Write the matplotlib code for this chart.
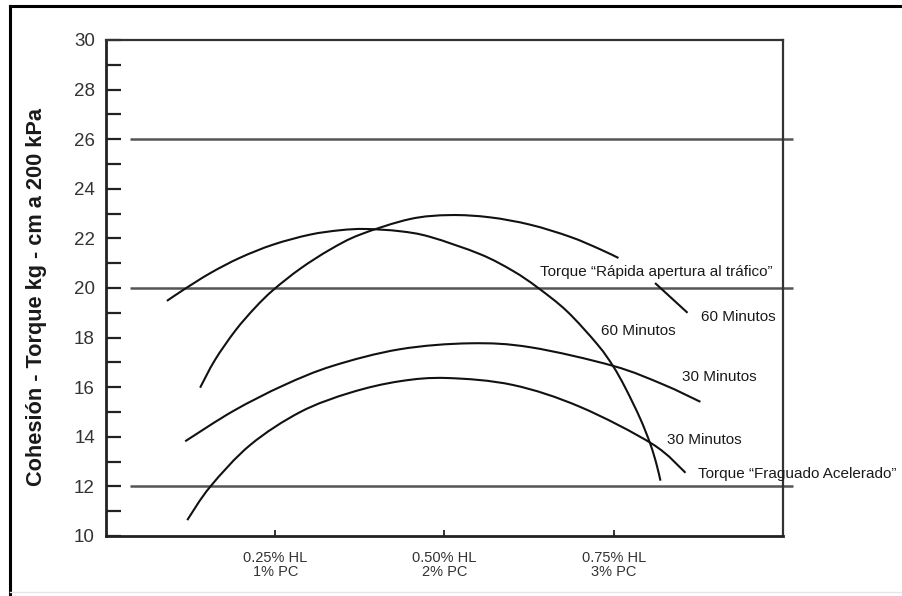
import numpy as np
import matplotlib
matplotlib.use("Agg")
import matplotlib.pyplot as plt
from matplotlib.path import Path
from matplotlib.patches import PathPatch
from matplotlib.lines import Line2D

plt.rcParams['font.family'] = ['Liberation Sans', 'DejaVu Sans']

# Dosage axis (HL = hidrato de cal, PC = cemento portland)
x_ticks = [0.25, 0.50, 0.75]
x_labels = ["0.25% HL\n1% PC", "0.50% HL\n2% PC", "0.75% HL\n3% PC"]
y_major = list(range(10, 31, 2))
y_minor = list(range(11, 30, 2))
ref_levels = [12, 20, 26]

# Torque "Rápida apertura al tráfico" - 60 minutos
rapida_60_x = [0.139, 0.161, 0.191, 0.220, 0.247, 0.287, 0.331, 0.375, 0.449,
               0.508, 0.567, 0.627, 0.686, 0.730, 0.757]
rapida_60_y = [15.98, 17.10, 18.28, 19.20, 19.92, 20.78, 21.55, 22.15, 22.78,
               22.94, 22.85, 22.55, 22.06, 21.56, 21.21]
rapida_60_tail_x = [0.811, 0.859]
rapida_60_tail_y = [20.20, 19.00]

# 60 minutos (curva de mayor pendiente)
min60_x = [0.090, 0.114, 0.154, 0.198, 0.247, 0.301, 0.346, 0.383, 0.434,
           0.479, 0.553, 0.601, 0.637, 0.681, 0.726, 0.749, 0.767, 0.789,
           0.804, 0.813, 0.819]
min60_y = [19.48, 19.92, 20.60, 21.22, 21.75, 22.15, 22.33, 22.38, 22.29,
           22.06, 21.36, 20.69, 20.03, 19.06, 17.72, 16.85, 15.98, 14.74,
           13.71, 12.91, 12.23]

# 30 minutos (curva superior)
min30_x = [0.117, 0.188, 0.262, 0.335, 0.434, 0.538, 0.627, 0.749, 0.823, 0.878]
min30_y = [13.82, 15.04, 16.07, 16.86, 17.53, 17.77, 17.61, 16.86, 16.11, 15.41]

# Torque "Fraguado Acelerado" - 30 minutos
fraguado_30_x = [0.120, 0.154, 0.213, 0.287, 0.361, 0.434, 0.504, 0.601,
                 0.700, 0.807, 0.856]
fraguado_30_y = [10.64, 11.99, 13.67, 15.00, 15.78, 16.24, 16.37, 16.09,
                 15.21, 13.71, 12.55]

# Curve labels: (text, x, y)
curve_labels = [
    ("Torque \u201cRápida apertura al tráfico\u201d", 0.641, 20.65),
    ("60 Minutos", 0.879, 18.84),
    ("60 Minutos", 0.731, 18.25),
    ("30 Minutos", 0.851, 16.41),
    ("30 Minutos", 0.829, 13.86),
    ("Torque \u201cFraguado Acelerado\u201d", 0.875, 12.51),
]


def smooth_path(xs, ys):
    """Catmull-Rom spline through the points, as cubic Bezier segments."""
    pts = np.column_stack([xs, ys]).astype(float)
    n = len(pts)
    verts = [pts[0]]
    codes = [Path.MOVETO]
    for i in range(n - 1):
        p0 = pts[i - 1] if i > 0 else pts[i]
        p1 = pts[i]
        p2 = pts[i + 1]
        p3 = pts[i + 2] if i + 2 < n else pts[i + 1]
        c1 = p1 + (p2 - p0) / 6.0
        c2 = p2 - (p3 - p1) / 6.0
        verts += [c1, c2, p2]
        codes += [Path.CURVE4] * 3
    return Path(verts, codes)


W, H = 903, 596
fig = plt.figure(figsize=(W / 100, H / 100), dpi=100)
ax = fig.add_axes([106 / W, 1 - 536 / H, (783 - 106) / W, (536 - 40) / H])
ax.set_xlim(0, 1)
ax.set_ylim(10, 30)

# reference torque levels
for lvl in ref_levels:
    ax.plot([0.035, 1.015], [lvl, lvl], color='#555555', lw=1.8,
            clip_on=False, solid_capstyle='butt', zorder=2)

for xs, ys in [(rapida_60_x, rapida_60_y), (rapida_60_tail_x, rapida_60_tail_y),
               (min60_x, min60_y), (min30_x, min30_y),
               (fraguado_30_x, fraguado_30_y)]:
    ax.add_patch(PathPatch(smooth_path(xs, ys), fill=False, lw=1.5,
                           edgecolor='#111111', capstyle='butt', zorder=3))

for text, x, y in curve_labels:
    ax.text(x, y, text, fontsize=11, color='#1a1a1a', ha='left', va='center',
            clip_on=False, zorder=4)

# axes styling
ax.set_yticks(y_major)
ax.set_yticks(y_minor, minor=True)
ax.set_yticklabels([str(v) for v in y_major])
ax.set_xticks(x_ticks)
ax.set_xticklabels(x_labels, fontsize=10.5, color='#333333', linespacing=0.95)
ax.tick_params(axis='y', which='both', direction='in', length=11, width=1.6,
               color='#222222', labelsize=13.5, labelcolor='#333333', pad=8)
ax.tick_params(axis='x', which='major', direction='in', length=4, width=1.4,
               color='#333333', pad=11)
for side in ['left', 'bottom']:
    ax.spines[side].set_linewidth(2.0)
    ax.spines[side].set_color('#222222')
for side in ['top', 'right']:
    ax.spines[side].set_linewidth(1.6)
    ax.spines[side].set_color('#333333')

fig.text(37 / W, 1 - 297 / H, "Cohesión - Torque kg - cm a 200 kPa",
         rotation=90, fontsize=15.7, fontweight='bold', color='#1a1a1a',
         ha='center', va='center')

# page frame
fig.add_artist(Line2D([10 / W, 1], [1 - 6 / H, 1 - 6 / H],
                      transform=fig.transFigure, color='black', lw=2.2))
fig.add_artist(Line2D([10 / W, 10 / W], [0, 1 - 6 / H],
                      transform=fig.transFigure, color='black', lw=2.2))
fig.add_artist(Line2D([10 / W, 1], [1 - 592 / H, 1 - 592 / H],
                      transform=fig.transFigure, color='#e6e6e6', lw=1.0))

fig.savefig("out.png", dpi=100)
